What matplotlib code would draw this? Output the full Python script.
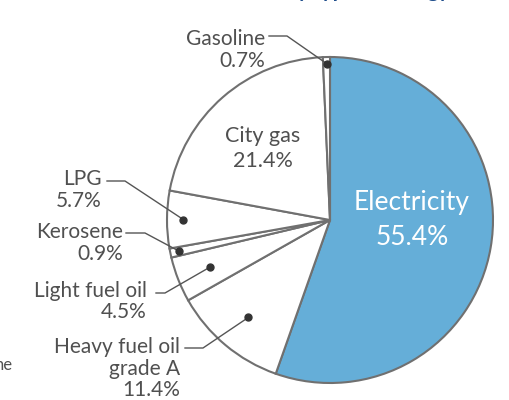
import matplotlib.pyplot as plt
import numpy as np

# shares by energy type, clockwise from 12 o'clock
labels = ['Electricity', 'Heavy fuel oil\ngrade A', 'Light fuel oil', 'Kerosene', 'LPG', 'City gas', 'Gasoline']
shares = [55.4, 11.4, 4.5, 0.9, 5.7, 21.4, 0.7]
colors = ['#65aed8', 'white', 'white', 'white', 'white', 'white', 'white']

plt.rcParams['font.family'] = ['Lato', 'DejaVu Sans']

W, H = 509, 400
def Y(py):
    return H - py

fig = plt.figure(figsize=(5.09, 4.0), dpi=100)
ax = fig.add_axes([0, 0, 1, 1])
wedges, _ = ax.pie(shares, colors=colors, startangle=90, counterclock=False,
                   radius=163, center=(330, Y(220)),
                   wedgeprops=dict(edgecolor='#707070', linewidth=1.5))
ax.set_xlim(0, W)
ax.set_ylim(0, H)
ax.set_aspect('equal')
ax.axis('off')

txt = '#505050'
fs = 15

# outside labels: text right edge, baselines, leader line y, elbow x range, dot radius fraction
outside = {
    'Gasoline':     (265, [45, 67],       36, 269, 287, 0.96),
    'LPG':          (102, [185, 207],     181, 107, 125, 0.90),
    'Kerosene':     (123, [238, 260],     233, 126, 145, 0.945),
    'Light fuel oil': (147, [297, 318],   293, 156, 165, 0.79),
    'Heavy fuel oil\ngrade A': (180, [353, 375, 396], 348, 185, 203, 0.78),
}

cx, cy = 330, Y(220)
for w, lab, v in zip(wedges, labels, shares):
    if lab not in outside:
        continue
    xr, bases, ly, x0, x1, rf = outside[lab]
    lines = lab.split('\n') + ['%.1f%%' % v]
    for s, b in zip(lines, bases):
        ax.text(xr, Y(b), s, ha='right', va='baseline', fontsize=fs, color=txt)
    mid = np.deg2rad((w.theta1 + w.theta2) / 2)
    dx = cx + w.r * rf * np.cos(mid)
    dy = cy + w.r * rf * np.sin(mid)
    ax.plot([x0, x1, dx], [Y(ly), Y(ly), dy], color='#555555', lw=1)
    ax.plot(dx, dy, 'o', color='#333333', ms=5)

# inside labels
ax.text(263, Y(142), 'City gas', ha='center', va='baseline', fontsize=fs + 0.5, color=txt)
ax.text(263, Y(167), '%.1f%%' % shares[5], ha='center', va='baseline', fontsize=fs + 0.5, color=txt)
ax.text(412, Y(210), 'Electricity', ha='center', va='baseline', fontsize=19, color='white')
ax.text(412, Y(245), '%.1f%%' % shares[0], ha='center', va='baseline', fontsize=19, color='white')

# cut-off bits of surrounding page
ax.text(450, Y(-3), 'by type of energy', ha='right', va='baseline', fontsize=15,
        fontweight='bold', color='#1f4e8c')
ax.text(13, Y(370), 'ne', ha='right', va='baseline', fontsize=12, color=txt)

fig.savefig('out.png', dpi=100)
